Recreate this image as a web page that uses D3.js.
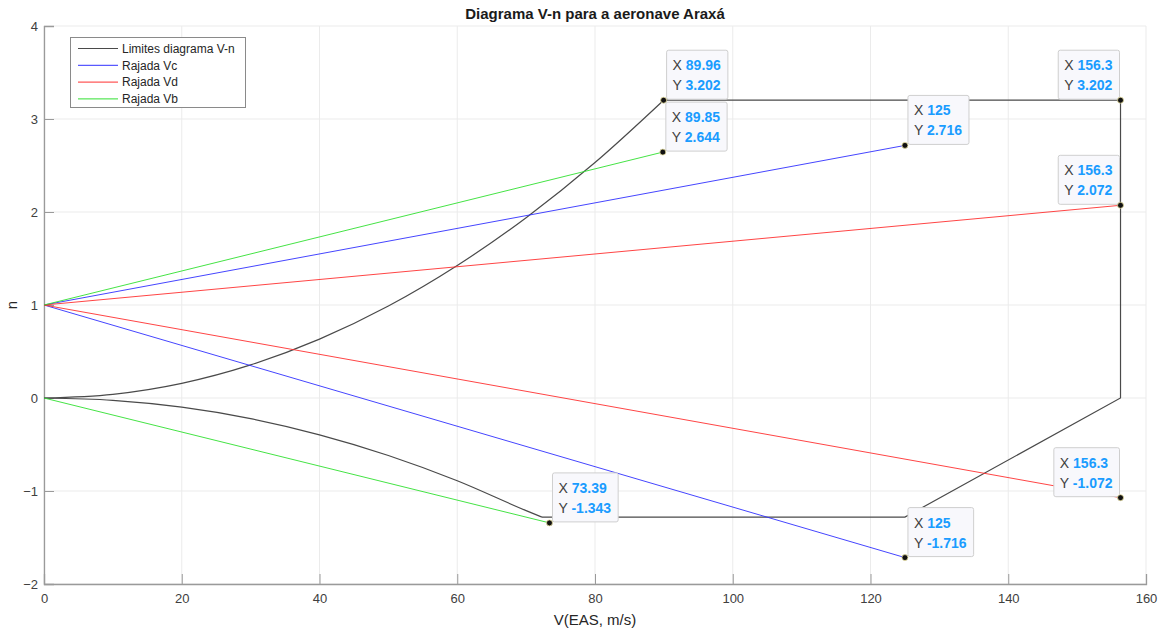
<!DOCTYPE html>
<html><head><meta charset="utf-8">
<script src="https://cdn.jsdelivr.net/npm/d3@7"></script>
<style>
body{margin:0;background:#fff;}
svg{display:block;font-family:"Liberation Sans",Arial,sans-serif;}
</style></head>
<body>
<svg id="c" width="1167" height="634"></svg>
<script>
// ---------- data ----------
const xTicks = [0,20,40,60,80,100,120,140,160];
const yTicks = [-2,-1,0,1,2,3,4];
// V-n envelope
const limPosCurve = [[0,0],[10,0.040],[20,0.158],[30,0.356],[40,0.633],[50,0.989],[60,1.425],[70,1.939],[80,2.532],[89.96,3.202]];
const limTop = [[89.96,3.202],[156.3,3.202],[156.3,0],[125,-1.281],[72.3,-1.281]];
const limNegCurve = [[0,0],[10,-0.025],[20,-0.099],[30,-0.222],[40,-0.396],[50,-0.618],[60,-0.890],[70,-1.211],[72.3,-1.281]];
const gustVc = [[[0,1],[125,2.716]],[[0,1],[125,-1.716]]];
const gustVd = [[[0,1],[156.3,2.072]],[[0,1],[156.3,-1.072]]];
const gustVb = [[[0,1],[89.85,2.644]],[[0,0],[73.39,-1.343]]];
const legendLabels = ["Limites diagrama V-n","Rajada Vc","Rajada Vd","Rajada Vb"];
const tipX = [89.96, 89.85, 125, 156.3, 156.3, 73.39, 125, 156.3];
const tipY = [3.202, 2.644, 2.716, 3.202, 2.072, -1.343, -1.716, -1.072];
const tipXLabel = ["89.96","89.85","125","156.3","156.3","73.39","125","156.3"];
const tipYLabel = ["3.202","2.644","2.716","3.202","2.072","-1.343","-1.716","-1.072"];

// ---------- layout ----------
const tipSide = ["r","r","r","l","l","r","r","l"];
const colors = {lim:"#4a4a4a", vc:"#3030ff", vd:"#ff3030", vb:"#30e030"};
const L=44, R=1146, T=26, B=584;
const svg = d3.select("#c");
const x = d3.scaleLinear().domain([0,160]).range([L,R]);
const y = d3.scaleLinear().domain([-2,4]).range([B,T]);

// grid
svg.append("g").selectAll("line").data(xTicks).join("line")
  .attr("x1",d=>x(d)).attr("x2",d=>x(d)).attr("y1",T).attr("y2",B)
  .attr("stroke","#ebebeb").attr("stroke-width",1);
svg.append("g").selectAll("line").data(yTicks).join("line")
  .attr("y1",d=>y(d)).attr("y2",d=>y(d)).attr("x1",L).attr("x2",R)
  .attr("stroke","#ebebeb").attr("stroke-width",1);

// axes
const xAx = svg.append("g").attr("transform",`translate(0,${B})`)
  .call(d3.axisBottom(x).tickValues(xTicks).tickSize(-10).tickPadding(10).tickFormat(d3.format("d")));
const yAx = svg.append("g").attr("transform",`translate(${L},0)`)
  .call(d3.axisLeft(y).tickValues(yTicks).tickSize(-10).tickPadding(6).tickFormat(d3.format("d")));
[xAx,yAx].forEach(a=>{
  a.select(".domain").attr("stroke","#9a9a9a").attr("stroke-width",1.3);
  a.selectAll(".tick line").attr("stroke","#9a9a9a").attr("stroke-width",1);
  a.selectAll(".tick text").attr("fill","#404040").attr("font-size",13).attr("font-family","Liberation Sans, Arial, sans-serif");
});

// lines
const line = d3.line().x(d=>x(d[0])).y(d=>y(d[1]));
const curve = d3.line().x(d=>x(d[0])).y(d=>y(d[1])).curve(d3.curveMonotoneX);
const g = svg.append("g").attr("fill","none");
g.append("path").attr("d",curve(limPosCurve)).attr("stroke",colors.lim).attr("stroke-width",1.2);
g.append("path").attr("d",line(limTop)).attr("stroke",colors.lim).attr("stroke-width",1.2);
g.append("path").attr("d",curve(limNegCurve)).attr("stroke",colors.lim).attr("stroke-width",1.2);
[[gustVc,colors.vc],[gustVd,colors.vd],[gustVb,colors.vb]].forEach(([s,c])=>{
  s.forEach(seg=>g.append("path").attr("d",line(seg)).attr("stroke",c).attr("stroke-width",0.9));
});

// data tips
tipX.forEach((vx,i)=>{
  const px=x(vx), py=y(tipY[i]);
  const tg = svg.append("g");
  const rect = tg.append("rect").attr("rx",2).attr("fill","#f8f8fc").attr("stroke","#cfcfcf").attr("stroke-width",1);
  const t1 = tg.append("text").attr("font-size",14);
  t1.append("tspan").attr("fill","#404040").text("X ");
  t1.append("tspan").attr("fill","#1a9cff").attr("font-weight","bold").text(tipXLabel[i]);
  const t2 = tg.append("text").attr("font-size",14);
  t2.append("tspan").attr("fill","#404040").text("Y ");
  t2.append("tspan").attr("fill","#1a9cff").attr("font-weight","bold").text(tipYLabel[i]);
  const w = Math.max(t1.node().getComputedTextLength(), t2.node().getComputedTextLength()) + 13;
  const h = 49;
  const bx = tipSide[i]==="r" ? px+3 : px-1-w;
  const by = py-1-h;
  rect.attr("x",bx).attr("y",by).attr("width",w).attr("height",h);
  t1.attr("x",bx+6).attr("y",by+20);
  t2.attr("x",bx+6).attr("y",by+40);
  svg.append("circle").attr("cx",px).attr("cy",py).attr("r",3)
    .attr("fill","#111").attr("stroke","#e8e0a0").attr("stroke-width",0.8);
});

// legend
const lg = svg.append("g");
lg.append("rect").attr("x",70.5).attr("y",37.5).attr("width",175).attr("height",70)
  .attr("fill","#fff").attr("stroke","#8a8a8a").attr("stroke-width",1);
const lc=[colors.lim,colors.vc,colors.vd,colors.vb];
legendLabels.forEach((lab,i)=>{
  const yy = 48.5 + i*16.8;
  lg.append("line").attr("x1",78).attr("x2",118).attr("y1",yy).attr("y2",yy).attr("stroke",lc[i]).attr("stroke-width",1);
  lg.append("text").attr("x",122).attr("y",yy+4.3).attr("font-size",12).attr("fill","#262626").text(lab);
});

// titles
svg.append("text").attr("x",595).attr("y",19).attr("text-anchor","middle")
  .attr("font-size",15).attr("font-weight","bold").attr("fill","#1a1a1a").text("Diagrama V-n para a aeronave Araxá");
svg.append("text").attr("x",(L+R)/2).attr("y",625).attr("text-anchor","middle")
  .attr("font-size",15).attr("fill","#262626").text("V(EAS, m/s)");
svg.append("text").attr("transform",`translate(17,${y(1)}) rotate(-90)`).attr("text-anchor","middle")
  .attr("font-size",15).attr("fill","#262626").text("n");
</script>
</body></html>
